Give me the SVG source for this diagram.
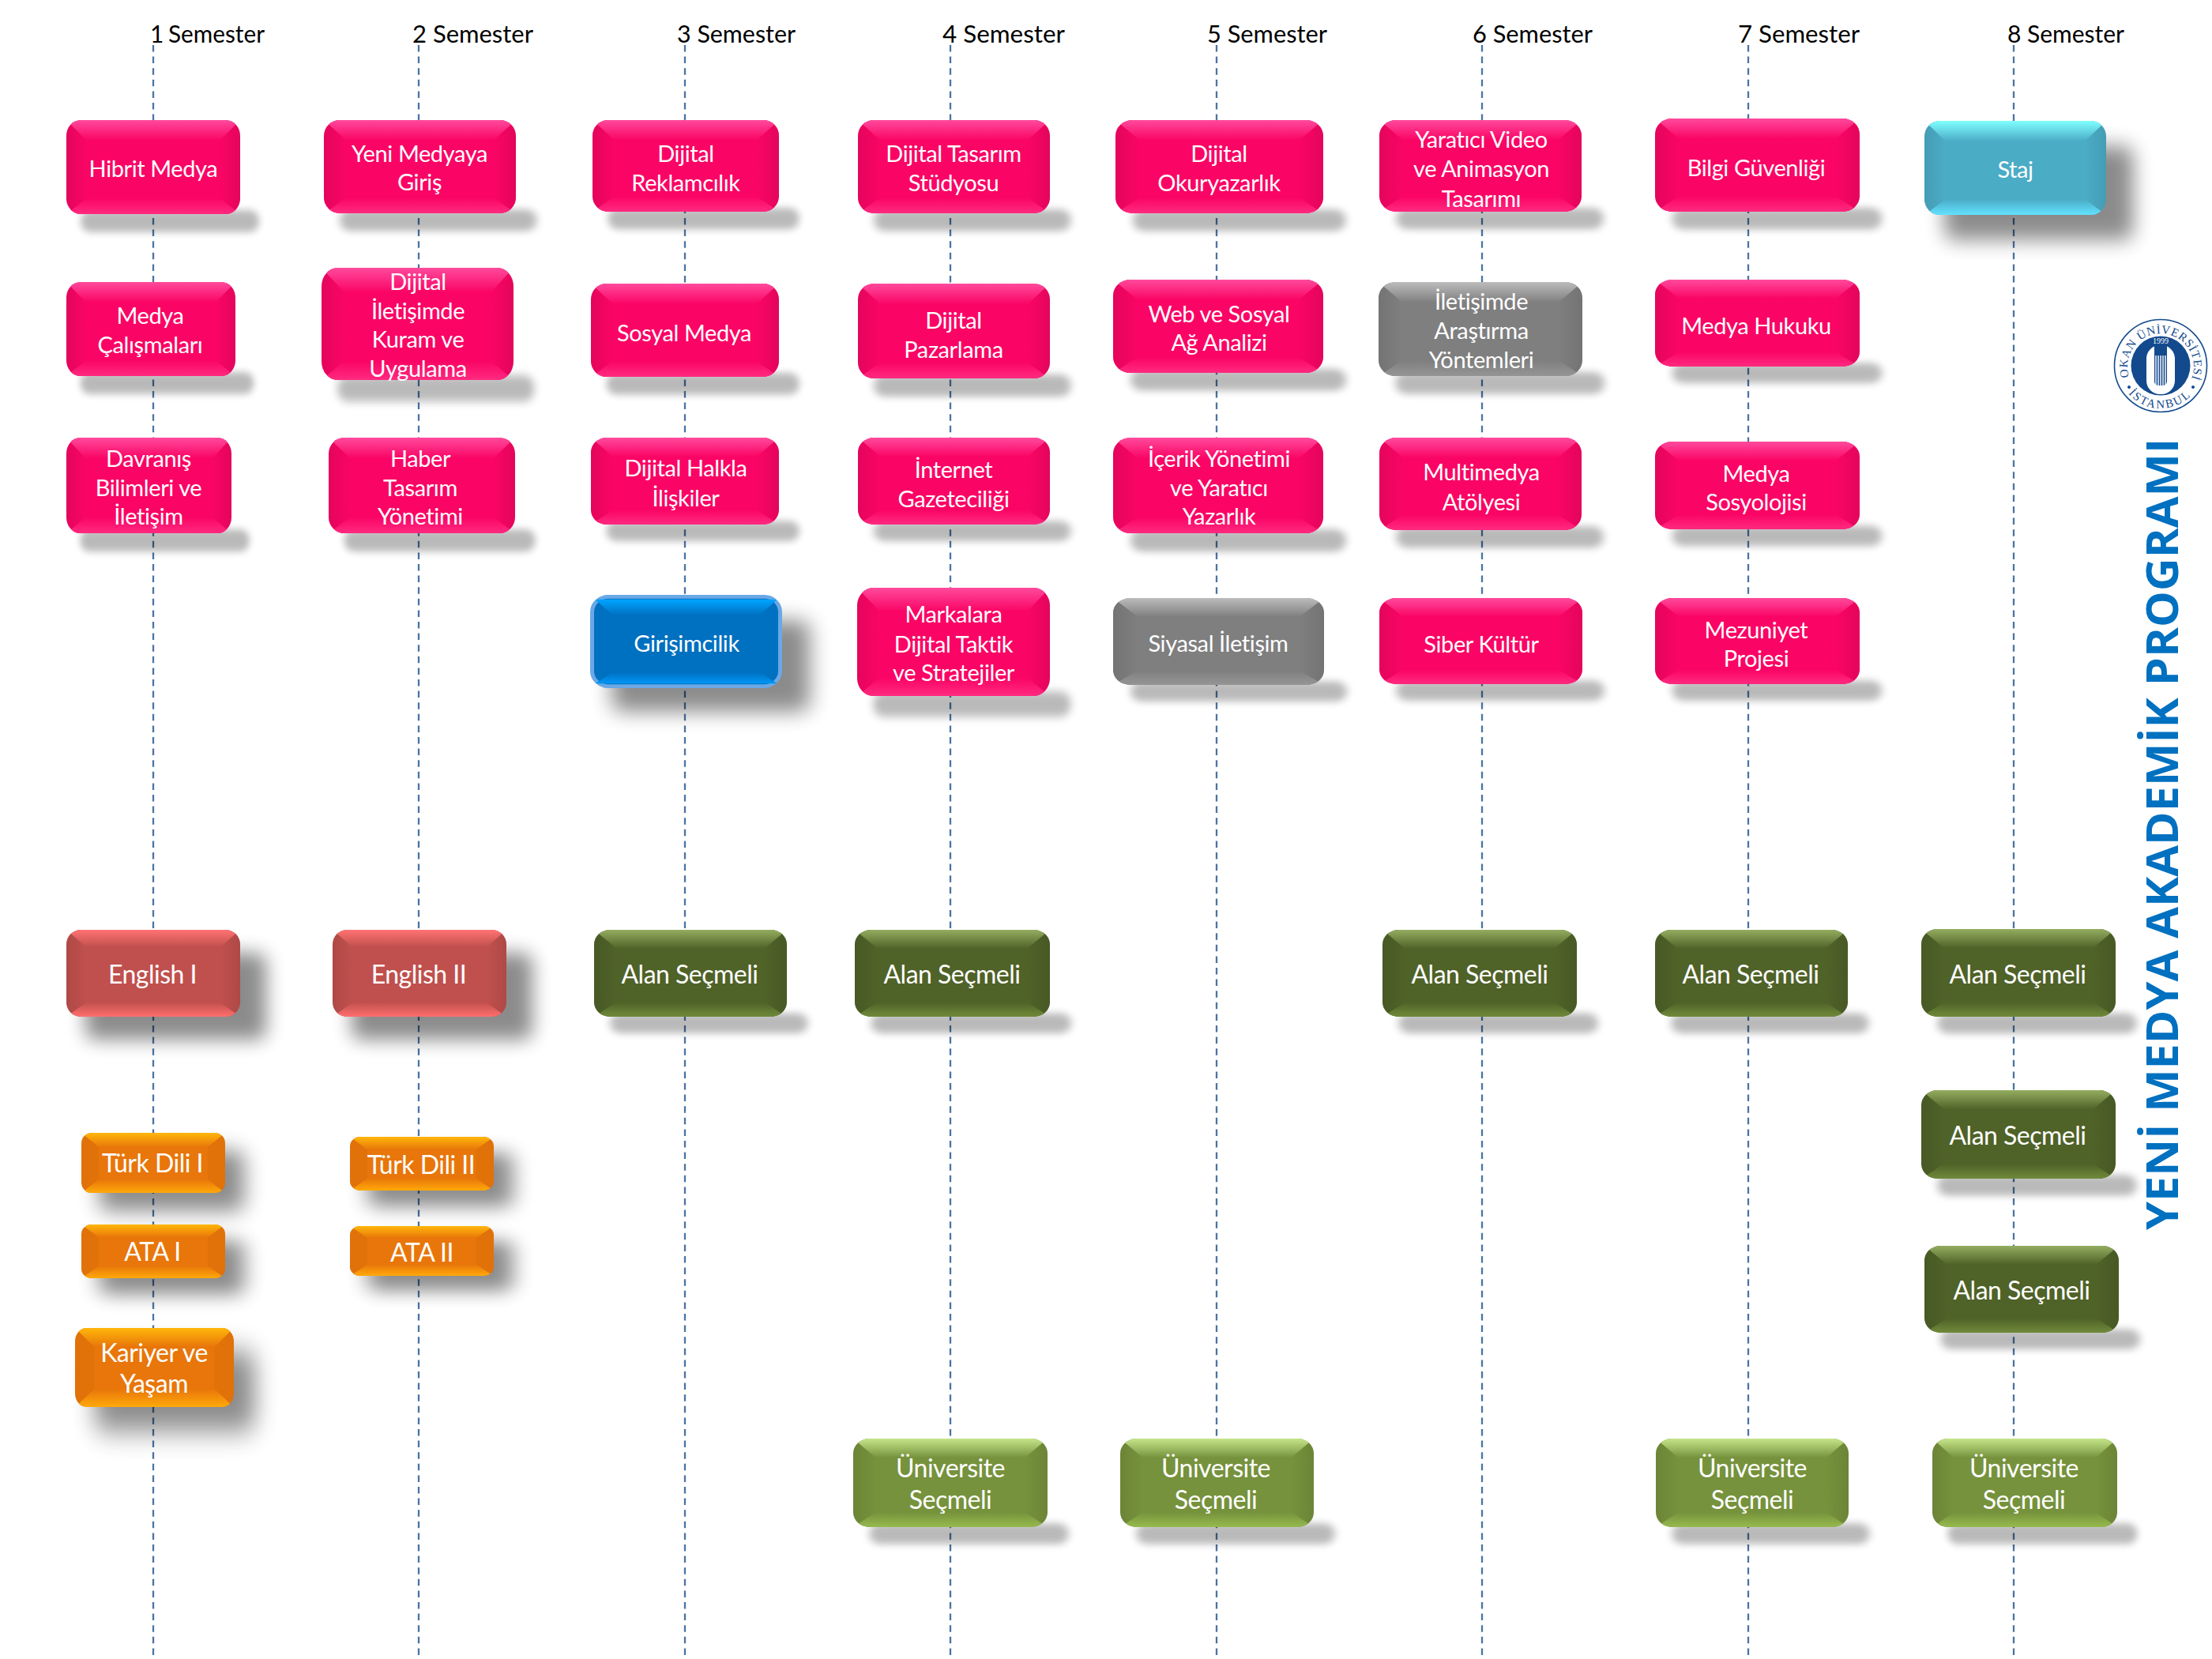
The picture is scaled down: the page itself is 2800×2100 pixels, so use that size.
<svg xmlns="http://www.w3.org/2000/svg" width="2800" height="2100" viewBox="0 0 2800 2100">
<style>
symbol{overflow:visible}
text{font-family:"Lato","Open Sans","Liberation Sans",sans-serif}
.h{font-size:31px;fill:#000}
.t{font-size:29px;letter-spacing:-.4px;fill:#fff;text-anchor:middle;transform:translateY(2px)}
.m{font-size:32px;letter-spacing:-.5px}
.l{stroke:#4a74a4;stroke-width:2.3;stroke-dasharray:8.5 6.1;fill:none}
.s{fill:#000;opacity:.27;filter:url(#b5)}
.d{fill:#000;opacity:.45;filter:url(#b10)}
.sl{fill:url(#side)}
.sr{fill:url(#sider)}
.lg{font-family:"Liberation Serif",serif;fill:#134a8e;font-size:15px}
</style>
<defs>
<filter id="b5" x="-20%" y="-60%" width="140%" height="220%"><feGaussianBlur stdDeviation="5"/></filter>
<filter id="b10" x="-30%" y="-40%" width="160%" height="180%"><feGaussianBlur stdDeviation="13"/></filter>
<clipPath id="c"><rect width="240" height="120" rx="20"/></clipPath>
<clipPath id="co"><rect width="180" height="75" rx="13"/></clipPath>
<linearGradient id="side"><stop offset="0" stop-color="#000" stop-opacity=".09"/><stop offset="1" stop-color="#000" stop-opacity="0"/></linearGradient>
<linearGradient id="sider" x1="1" x2="0"><stop offset="0" stop-color="#000" stop-opacity=".09"/><stop offset="1" stop-color="#000" stop-opacity="0"/></linearGradient>
<linearGradient id="pt" x2="0" y2="1"><stop offset="0" stop-color="#ff4a9c"/><stop offset="1" stop-color="#fa0565"/></linearGradient>
<linearGradient id="pb" x2="0" y2="1"><stop offset="0" stop-color="#fa0565"/><stop offset="1" stop-color="#ff2a80"/></linearGradient>
<linearGradient id="gt" x2="0" y2="1"><stop offset="0" stop-color="#bcbcbc"/><stop offset="1" stop-color="#7f7f7f"/></linearGradient>
<linearGradient id="gb" x2="0" y2="1"><stop offset="0" stop-color="#7f7f7f"/><stop offset="1" stop-color="#959595"/></linearGradient>
<linearGradient id="ct" x2="0" y2="1"><stop offset="0" stop-color="#7fffff"/><stop offset="1" stop-color="#4bacc6"/></linearGradient>
<linearGradient id="cb" x2="0" y2="1"><stop offset="0" stop-color="#4bacc6"/><stop offset="1" stop-color="#62e2ff"/></linearGradient>
<linearGradient id="bt" x2="0" y2="1"><stop offset="0" stop-color="#00a4ff"/><stop offset="1" stop-color="#0070c0"/></linearGradient>
<linearGradient id="bb" x2="0" y2="1"><stop offset="0" stop-color="#0070c0"/><stop offset="1" stop-color="#0096f5"/></linearGradient>
<linearGradient id="rt" x2="0" y2="1"><stop offset="0" stop-color="#ff7373"/><stop offset="1" stop-color="#c0504d"/></linearGradient>
<linearGradient id="rb" x2="0" y2="1"><stop offset="0" stop-color="#c0504d"/><stop offset="1" stop-color="#ff6e6e"/></linearGradient>
<linearGradient id="ot" x2="0" y2="1"><stop offset="0" stop-color="#ffb70a"/><stop offset="1" stop-color="#e8760a"/></linearGradient>
<linearGradient id="ob" x2="0" y2="1"><stop offset="0" stop-color="#e8760a"/><stop offset="1" stop-color="#ffa90a"/></linearGradient>
<linearGradient id="dt" x2="0" y2="1"><stop offset="0" stop-color="#94ad60"/><stop offset="1" stop-color="#4f6228"/></linearGradient>
<linearGradient id="db" x2="0" y2="1"><stop offset="0" stop-color="#4f6228"/><stop offset="1" stop-color="#6f8a3a"/></linearGradient>
<linearGradient id="lt" x2="0" y2="1"><stop offset="0" stop-color="#c6e68a"/><stop offset="1" stop-color="#76923c"/></linearGradient>
<linearGradient id="lb" x2="0" y2="1"><stop offset="0" stop-color="#76923c"/><stop offset="1" stop-color="#96ba4e"/></linearGradient>
<g id="sd"><path class="sl" d="M0 0L28 26V100L0 120Z"/><path class="sr" d="M240 0L212 26V100L240 120Z"/></g>
<symbol id="pink" viewBox="0 0 240 120" preserveAspectRatio="none"><rect class="s" x="20" y="115" width="246" height="28" rx="13"/><rect width="240" height="120" rx="20" fill="#fa0565"/><g clip-path="url(#c)"><use href="#sd"/><path d="M0 0H240L212 26H28Z" fill="url(#pt)"/><path d="M0 120H240L212 100H28Z" fill="url(#pb)"/></g></symbol>
<symbol id="grey" viewBox="0 0 240 120" preserveAspectRatio="none"><rect class="s" x="20" y="115" width="246" height="28" rx="13"/><rect width="240" height="120" rx="20" fill="#7f7f7f"/><g clip-path="url(#c)"><use href="#sd"/><path d="M0 0H240L212 26H28Z" fill="url(#gt)"/><path d="M0 120H240L212 100H28Z" fill="url(#gb)"/></g></symbol>
<symbol id="dgreen" viewBox="0 0 240 120" preserveAspectRatio="none"><rect class="s" x="20" y="115" width="246" height="28" rx="13"/><rect width="240" height="120" rx="20" fill="#4f6228"/><g clip-path="url(#c)"><use href="#sd"/><path d="M0 0H240L212 26H28Z" fill="url(#dt)"/><path d="M0 120H240L212 100H28Z" fill="url(#db)"/></g></symbol>
<symbol id="lgreen" viewBox="0 0 240 120" preserveAspectRatio="none"><rect class="s" x="20" y="115" width="246" height="28" rx="13"/><rect width="240" height="120" rx="20" fill="#76923c"/><g clip-path="url(#c)"><use href="#sd"/><path d="M0 0H240L212 26H28Z" fill="url(#lt)"/><path d="M0 120H240L212 100H28Z" fill="url(#lb)"/></g></symbol>
<symbol id="cyan" viewBox="0 0 240 120" preserveAspectRatio="none"><rect class="d" x="26" y="32" width="250" height="120" rx="14"/><rect width="240" height="120" rx="20" fill="#4bacc6"/><g clip-path="url(#c)"><use href="#sd"/><path d="M0 0H240L212 26H28Z" fill="url(#ct)"/><path d="M0 120H240L212 100H28Z" fill="url(#cb)"/></g></symbol>
<symbol id="blue" viewBox="0 0 240 120" preserveAspectRatio="none"><rect class="d" x="26" y="32" width="250" height="120" rx="14"/><rect x="1.5" y="1.5" width="237" height="117" rx="20" fill="#0070c0" stroke="#6aa8e6" stroke-width="5"/><g clip-path="url(#c)"><path d="M5 5H235L212 26H28Z" fill="url(#bt)"/><path d="M5 115H235L212 100H28Z" fill="url(#bb)"/></g></symbol>
<symbol id="red" viewBox="0 0 240 120" preserveAspectRatio="none"><rect class="d" x="26" y="32" width="250" height="120" rx="14"/><rect width="240" height="120" rx="20" fill="#c0504d"/><g clip-path="url(#c)"><use href="#sd"/><path d="M0 0H240L212 24H28Z" fill="url(#rt)"/><path d="M0 120H240L212 100H28Z" fill="url(#rb)"/></g></symbol>
<symbol id="orange" viewBox="0 0 180 75" preserveAspectRatio="none"><rect class="d" x="22" y="22" width="182" height="76" rx="12"/><rect width="180" height="75" rx="13" fill="#e8760a"/><g clip-path="url(#co)"><path d="M0 0L22 18V58L0 75Z" fill="#000" opacity=".03"/><path d="M180 0L158 18V58L180 75Z" fill="#000" opacity=".03"/><path d="M0 0H180L158 18H22Z" fill="url(#ot)"/><path d="M0 75H180L158 58H22Z" fill="url(#ob)"/></g></symbol>
</defs>
<rect width="2800" height="2100" fill="#fff"/>
<g id="connectors">
<path class="l" d="M194 57V2100M530 57V2100M867 57V2100M1203 57V2100M1540 57V2100M1876 57V2100M2213 57V2100M2549 57V2100"/>
</g>
<g id="headers">
<text class="h" x="190" y="54" textLength="145" lengthAdjust="spacingAndGlyphs">1<tspan dx="-2"> Semester</tspan></text>
<text class="h" x="522" y="54" textLength="153" lengthAdjust="spacingAndGlyphs">2  Semester</text>
<text class="h" x="857" y="54" textLength="150" lengthAdjust="spacingAndGlyphs">3  Semester</text>
<text class="h" x="1193" y="54" textLength="155" lengthAdjust="spacingAndGlyphs">4  Semester</text>
<text class="h" x="1528" y="54" textLength="152" lengthAdjust="spacingAndGlyphs">5  Semester</text>
<text class="h" x="1864" y="54" textLength="152" lengthAdjust="spacingAndGlyphs">6  Semester</text>
<text class="h" x="2200" y="54" textLength="154" lengthAdjust="spacingAndGlyphs">7  Semester</text>
<text class="h" x="2541" y="54" textLength="148" lengthAdjust="spacingAndGlyphs">8 Semester</text>
</g>
<g id="n-hibrit"><use href="#pink" x="84" y="152" width="220" height="119"/><text class="t" x="194" y="222">Hibrit Medya</text></g>
<g id="n-medya-cal"><use href="#pink" x="84" y="357" width="214" height="119"/><text class="t"><tspan x="190" y="408">Medya</tspan><tspan x="190" y="445">Çalışmaları</tspan></text></g>
<g id="n-davranis"><use href="#pink" x="84" y="554" width="209" height="121"/><text class="t"><tspan x="188" y="589">Davranış</tspan><tspan x="188" y="626">Bilimleri ve</tspan><tspan x="188" y="662">İletişim</tspan></text></g>
<g id="n-yeni"><use href="#pink" x="410" y="152" width="243" height="118"/><text class="t"><tspan x="531" y="203">Yeni Medyaya</tspan><tspan x="531" y="239">Giriş</tspan></text></g>
<g id="n-dijital-il"><use href="#pink" x="407" y="339" width="243" height="142"/><text class="t"><tspan x="529" y="365">Dijital</tspan><tspan x="529" y="402">İletişimde</tspan><tspan x="529" y="438">Kuram ve</tspan><tspan x="529" y="475">Uygulama</tspan></text></g>
<g id="n-haber"><use href="#pink" x="416" y="554" width="236" height="121"/><text class="t"><tspan x="532" y="589">Haber</tspan><tspan x="532" y="626">Tasarım</tspan><tspan x="532" y="662">Yönetimi</tspan></text></g>
<g id="n-reklam"><use href="#pink" x="750" y="152" width="236" height="116"/><text class="t"><tspan x="868" y="203">Dijital</tspan><tspan x="868" y="240">Reklamcılık</tspan></text></g>
<g id="n-sosyal"><use href="#pink" x="748" y="359" width="238" height="118"/><text class="t" x="866" y="430">Sosyal Medya</text></g>
<g id="n-halkla"><use href="#pink" x="748" y="554" width="238" height="110"/><text class="t"><tspan x="868" y="601">Dijital Halkla</tspan><tspan x="868" y="639">İlişkiler</tspan></text></g>
<g id="n-girisim"><use href="#blue" x="748" y="754" width="241" height="116"/><text class="t" x="869" y="823">Girişimcilik</text></g>
<g id="n-tasarim"><use href="#pink" x="1086" y="152" width="243" height="118"/><text class="t"><tspan x="1207" y="203">Dijital Tasarım</tspan><tspan x="1207" y="240">Stüdyosu</tspan></text></g>
<g id="n-pazarlama"><use href="#pink" x="1086" y="359" width="243" height="120"/><text class="t"><tspan x="1207" y="414">Dijital</tspan><tspan x="1207" y="451">Pazarlama</tspan></text></g>
<g id="n-internet"><use href="#pink" x="1086" y="554" width="243" height="110"/><text class="t"><tspan x="1207" y="603">İnternet</tspan><tspan x="1207" y="640">Gazeteciliği</tspan></text></g>
<g id="n-markalara"><use href="#pink" x="1085" y="744" width="244" height="137"/><text class="t"><tspan x="1207" y="786">Markalara</tspan><tspan x="1207" y="824">Dijital Taktik</tspan><tspan x="1207" y="860">ve Stratejiler</tspan></text></g>
<g id="n-okur"><use href="#pink" x="1412" y="152" width="263" height="118"/><text class="t"><tspan x="1543" y="203">Dijital</tspan><tspan x="1543" y="240">Okuryazarlık</tspan></text></g>
<g id="n-web"><use href="#pink" x="1409" y="354" width="266" height="118"/><text class="t"><tspan x="1543" y="406">Web ve Sosyal</tspan><tspan x="1543" y="442">Ağ Analizi</tspan></text></g>
<g id="n-icerik"><use href="#pink" x="1409" y="554" width="266" height="121"/><text class="t"><tspan x="1543" y="589">İçerik Yönetimi</tspan><tspan x="1543" y="626">ve Yaratıcı</tspan><tspan x="1543" y="662">Yazarlık</tspan></text></g>
<g id="n-siyasal"><use href="#grey" x="1409" y="757" width="267" height="110"/><text class="t" x="1542" y="823">Siyasal İletişim</text></g>
<g id="n-yaratici"><use href="#pink" x="1746" y="152" width="256" height="116"/><text class="t"><tspan x="1875" y="185">Yaratıcı Video</tspan><tspan x="1875" y="222">ve Animasyon</tspan><tspan x="1875" y="260">Tasarımı</tspan></text></g>
<g id="n-arastirma"><use href="#grey" x="1745" y="357" width="258" height="119"/><text class="t"><tspan x="1875" y="390">İletişimde</tspan><tspan x="1875" y="427">Araştırma</tspan><tspan x="1875" y="464">Yöntemleri</tspan></text></g>
<g id="n-multi"><use href="#pink" x="1746" y="554" width="256" height="117"/><text class="t"><tspan x="1875" y="606">Multimedya</tspan><tspan x="1875" y="644">Atölyesi</tspan></text></g>
<g id="n-siber"><use href="#pink" x="1746" y="757" width="257" height="109"/><text class="t" x="1875" y="824">Siber Kültür</text></g>
<g id="n-bilgi"><use href="#pink" x="2095" y="150" width="259" height="118"/><text class="t" x="2223" y="221">Bilgi Güvenliği</text></g>
<g id="n-hukuk"><use href="#pink" x="2095" y="354" width="259" height="110"/><text class="t" x="2223" y="421">Medya Hukuku</text></g>
<g id="n-sosyoloji"><use href="#pink" x="2095" y="559" width="259" height="111"/><text class="t"><tspan x="2223" y="608">Medya</tspan><tspan x="2223" y="644">Sosyolojisi</tspan></text></g>
<g id="n-mezuniyet"><use href="#pink" x="2095" y="757" width="259" height="109"/><text class="t"><tspan x="2223" y="806">Mezuniyet</tspan><tspan x="2223" y="842">Projesi</tspan></text></g>
<g id="n-staj"><use href="#cyan" x="2436" y="153" width="230" height="119"/><text class="t" x="2551" y="223">Staj</text></g>
<g id="n-eng1"><use href="#red" x="84" y="1177" width="220" height="110"/><text class="t m" x="193" y="1243">English I</text></g>
<g id="n-eng2"><use href="#red" x="421" y="1177" width="220" height="110"/><text class="t m" x="530" y="1243">English II</text></g>
<g id="n-alan3"><use href="#dgreen" x="752" y="1177" width="244" height="110"/><text class="t m" x="873" y="1243">Alan Seçmeli</text></g>
<g id="n-alan4"><use href="#dgreen" x="1082" y="1177" width="247" height="110"/><text class="t m" x="1205" y="1243">Alan Seçmeli</text></g>
<g id="n-alan6"><use href="#dgreen" x="1750" y="1177" width="246" height="110"/><text class="t m" x="1873" y="1243">Alan Seçmeli</text></g>
<g id="n-alan7"><use href="#dgreen" x="2095" y="1177" width="244" height="110"/><text class="t m" x="2216" y="1243">Alan Seçmeli</text></g>
<g id="n-alan8a"><use href="#dgreen" x="2432" y="1176" width="246" height="111"/><text class="t m" x="2554" y="1243">Alan Seçmeli</text></g>
<g id="n-alan8b"><use href="#dgreen" x="2432" y="1380" width="246" height="112"/><text class="t m" x="2554" y="1447">Alan Seçmeli</text></g>
<g id="n-alan8c"><use href="#dgreen" x="2436" y="1577" width="246" height="110"/><text class="t m" x="2559" y="1643">Alan Seçmeli</text></g>
<g id="n-turk1"><use href="#orange" x="103" y="1434" width="182" height="76"/><text class="t m" x="193" y="1482">Türk Dili I</text></g>
<g id="n-ata1"><use href="#orange" x="103" y="1550" width="182" height="68"/><text class="t m" x="193" y="1594">ATA I</text></g>
<g id="n-kariyer"><use href="#orange" x="95" y="1681" width="201" height="100"/><text class="t m"><tspan x="195" y="1722">Kariyer ve</tspan><tspan x="195" y="1761">Yaşam</tspan></text></g>
<g id="n-turk2"><use href="#orange" x="443" y="1439" width="182" height="68"/><text class="t m" x="533" y="1484">Türk Dili II</text></g>
<g id="n-ata2"><use href="#orange" x="443" y="1552" width="182" height="63"/><text class="t m" x="534" y="1595">ATA II</text></g>
<g id="n-uni4"><use href="#lgreen" x="1080" y="1821" width="246" height="112"/><text class="t m"><tspan x="1203" y="1868">Üniversite</tspan><tspan x="1203" y="1908">Seçmeli</tspan></text></g>
<g id="n-uni5"><use href="#lgreen" x="1418" y="1821" width="245" height="112"/><text class="t m"><tspan x="1539" y="1868">Üniversite</tspan><tspan x="1539" y="1908">Seçmeli</tspan></text></g>
<g id="n-uni7"><use href="#lgreen" x="2096" y="1821" width="244" height="112"/><text class="t m"><tspan x="2218" y="1868">Üniversite</tspan><tspan x="2218" y="1908">Seçmeli</tspan></text></g>
<g id="n-uni8"><use href="#lgreen" x="2446" y="1821" width="234" height="112"/><text class="t m"><tspan x="2562" y="1868">Üniversite</tspan><tspan x="2562" y="1908">Seçmeli</tspan></text></g>
<text id="title" transform="translate(2757 1557) rotate(-90)" textLength="1002" lengthAdjust="spacingAndGlyphs" style="font-family:'Open Sans','Liberation Sans',sans-serif;font-weight:700;font-size:55px;fill:#0070c0">YENİ MEDYA AKADEMİK PROGRAMI</text>
<g id="logo" transform="translate(2735 463)">
<circle r="58.5" fill="#fff" stroke="#134a8e" stroke-width="1.6"/>
<circle r="37.5" fill="#134a8e"/>
<rect x="-18" y="-26" width="36" height="62" rx="17" fill="#fff"/>
<rect x="-8" y="-30" width="16" height="55" rx="5" fill="#134a8e"/>
<path d="M-6-13V26M-3-13V29M0-13V29M3-13V29M6-13V26" stroke="#fff" stroke-width="1.4"/>
<text y="-28" text-anchor="middle" style="font-family:'Liberation Serif',serif;font-size:10px;fill:#fff">1999</text>
<path id="arcT" d="M-40 14A42 42 0 1 1 40 14" fill="none"/>
<path id="arcB" d="M-41 35A54 54 0 0 0 41 35" fill="none"/>
<text class="lg" textLength="160"><textPath href="#arcT">OKAN ÜNİVERSİTESİ</textPath></text>
<text class="lg" textLength="88"><textPath href="#arcB">İSTANBUL</textPath></text>
<circle cx="-40" cy="27" r="2" fill="#134a8e"/><circle cx="41" cy="27" r="2" fill="#134a8e"/>
</g>
</svg>
